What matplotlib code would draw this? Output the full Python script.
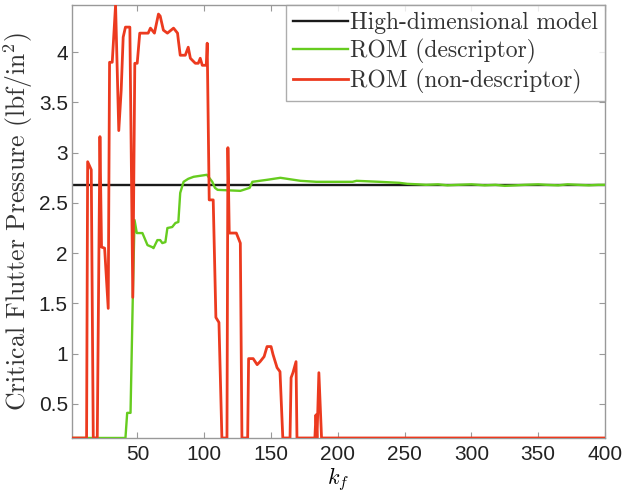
import matplotlib
matplotlib.use("Agg")
import matplotlib.pyplot as plt

# ---------------- data ----------------
hdm_value = 2.68
hdm_k = [1, 400]

base = 0.16  # "no flutter" level drawn at the axis floor

red_k = [1, 11.9, 12.7, 15.4, 16.9, 19.9, 21.9, 23.1, 25.4, 28.1, 29.1, 31.1, 33.6, 36.0,
         37.8, 39.3, 41.0, 44.3, 46.5, 48.0, 49.8, 51.7, 58.0, 59.7, 62.7, 65.7, 67.0,
         69.4, 72.4, 77.0, 80.0, 80.6, 82.0, 85.8, 88.0, 89.6, 93.3, 95.5, 97.0, 98.5,
         101.5, 102.2, 103.7, 106.7, 108.7, 111.0, 113.2, 117.0, 117.7, 118.7, 124.0,
         127.0, 128.2, 132.5, 133.2, 136.6, 139.6, 141.8, 144.8, 147.0, 150.0, 151.5,
         154.5, 156.7, 158.8, 164.2, 165.0, 166.4, 168.7, 169.4, 182.8, 183.6, 184.4,
         185.8, 187.8, 400]
red_v = [base, base, 2.91, 2.83, base, base, 3.16, 2.06, 2.05, 1.45, 3.90, 3.90, 4.47, 3.22,
         3.62, 4.15, 4.25, 4.25, 1.56, 3.89, 3.89, 4.19, 4.19, 4.24, 4.19, 4.38, 4.36,
         4.22, 4.19, 4.24, 4.19, 4.12, 3.97, 3.97, 4.05, 3.94, 3.89, 3.89, 3.94, 3.87,
         3.87, 4.09, 2.53, 2.53, 1.36, 1.31, base, base, 3.05, 2.20, 2.20,
         2.10, base, base, 0.95, 0.95, 0.89, 0.92, 0.97, 1.07, 1.07, 0.99,
         0.86, 0.82, base, base, 0.76, 0.81, 0.92, base, base, 0.39, base,
         0.81, base, base]

green_k = [1, 41.0, 42.3, 44.8, 46.5, 47.8, 49.5, 53.7, 57.5, 61.0, 62.0, 64.9, 67.0, 68.6,
           70.9, 72.4, 76.0, 78.4, 80.6, 82.0, 84.5, 88.0, 92.0, 102.0, 106.0, 108.0,
           110.0, 127.0, 134.0, 136.0, 147.0, 157.0, 172.0, 184.0, 211.0, 214.0, 231.0,
           246.0, 252.0, 260.0, 266.0, 275.0, 282.0, 290.0, 300.0, 310.0, 318.0, 325.0,
           333.0, 340.0, 350.0, 356.0, 365.0, 372.0, 380.0, 388.0, 395.0, 400.0]
green_v = [base, base, 0.41, 0.41, 1.56, 2.33, 2.20, 2.20, 2.08, 2.06, 2.05, 2.13, 2.13, 2.10,
           2.11, 2.25, 2.26, 2.30, 2.31, 2.60, 2.71, 2.74, 2.76, 2.78, 2.71, 2.65,
           2.63, 2.62, 2.65, 2.71, 2.73, 2.75, 2.72, 2.71, 2.71, 2.72, 2.71,
           2.70, 2.69, 2.685, 2.68, 2.685, 2.675, 2.68, 2.685, 2.675, 2.68, 2.67,
           2.675, 2.68, 2.685, 2.68, 2.675, 2.685, 2.68, 2.675, 2.68, 2.68]

x_ticks = [50, 100, 150, 200, 250, 300, 350, 400]
y_ticks = [0.5, 1, 1.5, 2, 2.5, 3, 3.5, 4]
y_ticklabels = ["0.5", "1", "1.5", "2", "2.5", "3", "3.5", "4"]
labels = ["High-dimensional model", "ROM (descriptor)", "ROM (non-descriptor)"]

# ---------------- plot ----------------
plt.rcParams["mathtext.fontset"] = "cm"
plt.rcParams["axes.formatter.use_mathtext"] = False

fig = plt.figure(figsize=(6.23, 4.92), dpi=100)
ax = fig.add_axes([0.1156, 0.1098, 0.8555, 0.880])

ax.plot(hdm_k, [hdm_value, hdm_value], color="#1a1a1a", lw=1.7, label=labels[0], zorder=2)
ax.plot(green_k, green_v, color="#66cc1f", lw=1.7, label=labels[1], zorder=3)
ax.plot(red_k, red_v, color="#ec3a1f", lw=2.0, label=labels[2], zorder=4)

ax.set_xlim(1, 400)
ax.set_ylim(0.16, 4.47)
ax.set_xticks(x_ticks)
ax.set_yticks(y_ticks)
ax.set_yticklabels(y_ticklabels)

for lab in ax.get_xticklabels() + ax.get_yticklabels():
    lab.set_fontfamily("Liberation Sans")
    lab.set_fontsize(15)
    lab.set_color("#222222")

ax.tick_params(direction="in", top=True, right=True, length=4, width=0.8,
               color="#999999")
ax.tick_params(axis="x", pad=5)
ax.tick_params(axis="y", pad=3)
for s in ax.spines.values():
    s.set_color("#999999")
    s.set_linewidth(1.0)

ax.set_xlabel(r"$k_f$", fontsize=16, labelpad=1)
ax.set_ylabel(r"Critical Flutter Pressure (lbf/in$^2$)", fontsize=18.5,
              fontfamily="cmr10", labelpad=3, color="#333333")

leg = ax.legend(loc="upper right", prop={"family": "cmr10", "size": 17},
                frameon=True, fancybox=False, borderaxespad=0.0,
                handlelength=2.3, handletextpad=0.1, labelspacing=0.2,
                borderpad=0.3)
leg.get_frame().set_edgecolor("#999999")
leg.get_frame().set_linewidth(1.0)
for t in leg.get_texts():
    t.set_color("#333333")

fig.savefig("out.png", dpi=100)
